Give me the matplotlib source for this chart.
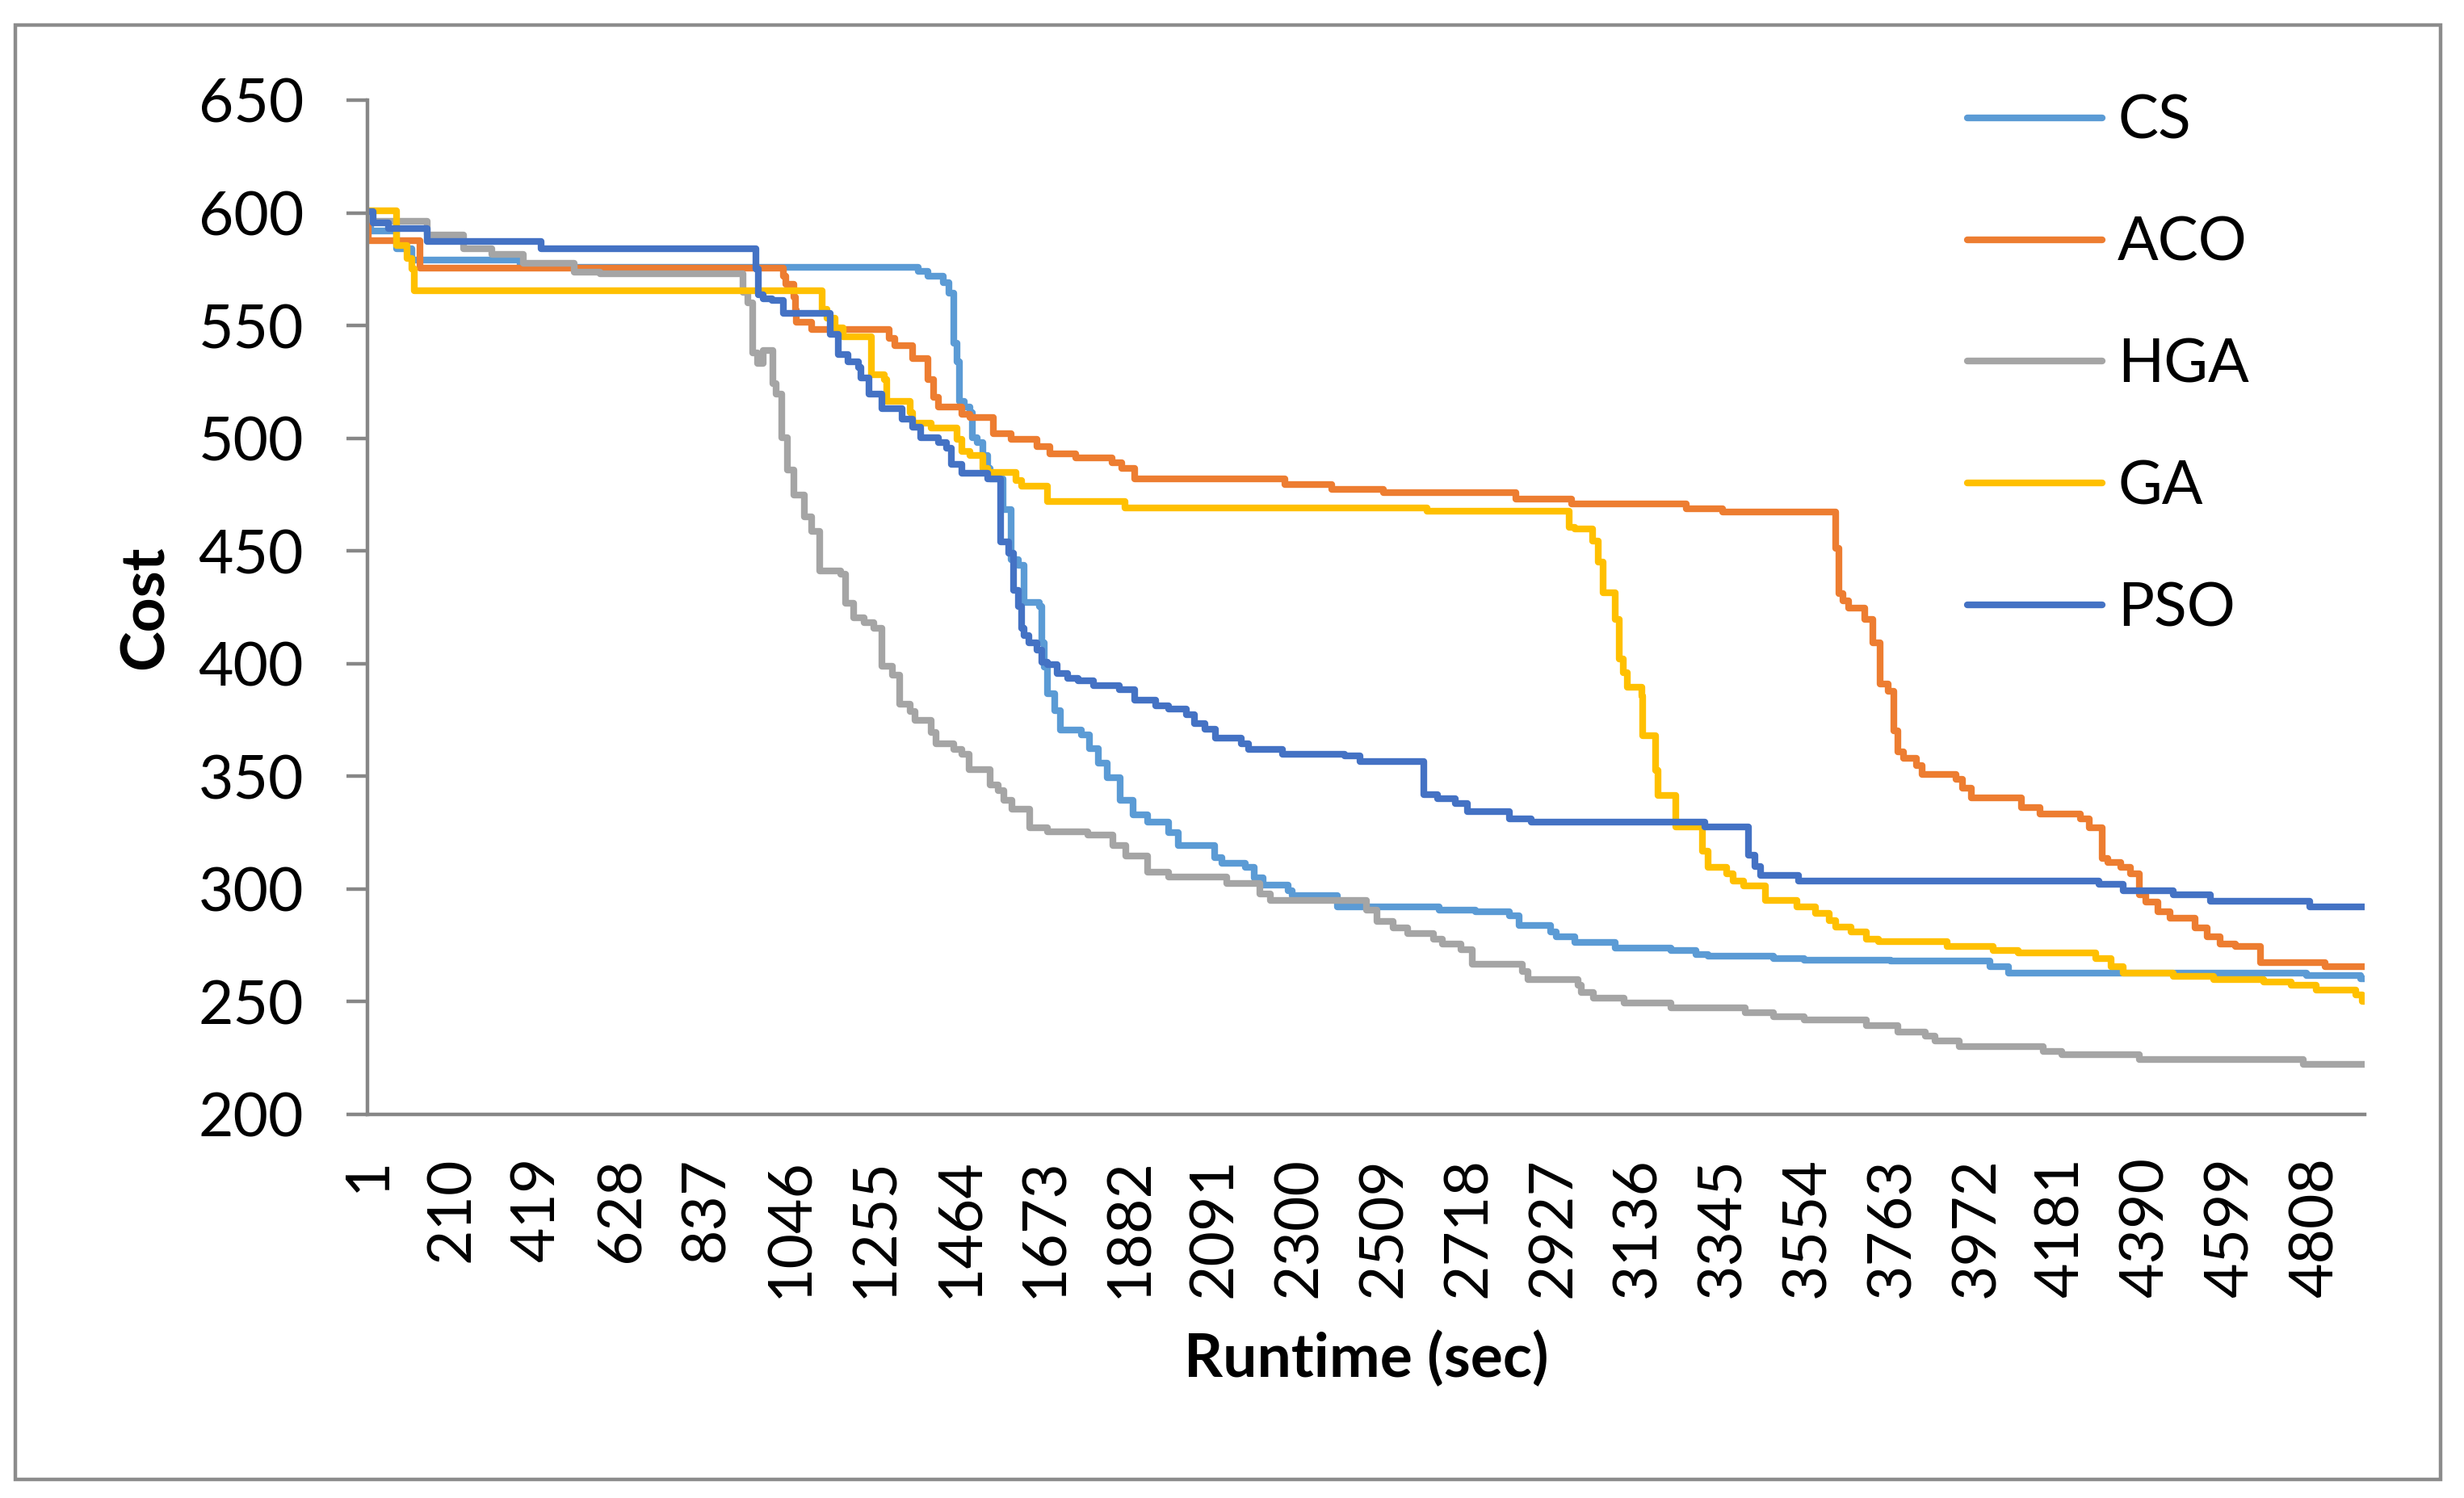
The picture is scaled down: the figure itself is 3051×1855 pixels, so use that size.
import matplotlib
matplotlib.use("Agg")
import matplotlib.pyplot as plt
from matplotlib.patches import Rectangle
import numpy as np

plt.rcParams['font.family'] = ['Lato', 'DejaVu Sans']

# ---- data (step change points: iteration index, cost) ----
n_points = 4930
x_tick_labels = [str(v) for v in [1, 210, 419, 628, 837, 1046, 1255, 1464, 1673, 1882, 2091,
                                  2300, 2509, 2718, 2927, 3136, 3345, 3554, 3763, 3972,
                                  4181, 4390, 4599, 4808]]
y_ticks = [200, 250, 300, 350, 400, 450, 500, 550, 600, 650]

cs_idx = [1, 8, 72, 110, 378, 1360, 1385, 1423, 1436, 1449, 1455, 1462, 1474, 1487, 1494, 1506,
          1519, 1532, 1538, 1570, 1589, 1608, 1621, 1659, 1666, 1672, 1680, 1698, 1711, 1763,
          1782, 1805, 1826, 1858, 1890, 1926, 1979, 2002, 2091, 2109, 2167, 2189, 2211, 2274,
          2283, 2394, 2645, 2736, 2820, 2843, 2920, 2935, 2981, 3080, 3218, 3279, 3310, 3471,
          3547, 3761, 4006, 4052, 4787, 4920]
cs_val = [598, 592, 584, 579, 576, 574, 572, 569, 564.3, 542, 534, 516.3, 514, 511.5, 500.4, 498,
          492.4, 486.8, 482, 468.4, 446, 443.6, 427, 425.3, 409.3, 398.4, 386.7, 379.3, 370.7, 368.3,
          362.3, 355.9, 349.5, 339.3, 333, 329.7, 324.9, 319.4, 313.8, 311.4, 309.8, 305, 301.8, 299.4,
          297, 292, 290.5, 290, 288.1, 284, 280.9, 278.8, 276.4, 273.7, 272.7, 271, 270.2, 269.2,
          268.5, 267.9, 265.5, 262.8, 261.8, 260.3]

aco_idx = [1, 3, 130, 1028, 1034, 1054, 1058, 1060, 1098, 1289, 1302, 1347, 1385, 1398, 1411,
           1468, 1487, 1545, 1589, 1653, 1685, 1749, 1838, 1863, 1895, 2265, 2380, 2508, 2835,
           2973, 3256, 3345, 3625, 3633, 3642, 3657, 3697, 3716, 3735, 3754, 3769, 3777, 3792,
           3823, 3838, 3922, 3937, 3960, 4083, 4129, 4228, 4251, 4282, 4297, 4328, 4351, 4374,
           4389, 4420, 4450, 4511, 4542, 4573, 4611, 4672, 4833]
aco_val = [596, 587.5, 575.5, 572, 568.3, 562.7, 557, 551.5, 548.3, 544.3, 541.1, 535.5, 526, 518, 514,
           510.8, 509.2, 502, 499.6, 496.4, 493.2, 491.3, 489.2, 486.8, 482, 479.6, 477.2, 475.8, 473,
           470.9, 468.8, 467.2, 451, 431, 427.8, 424.7, 419.5, 409.3, 390.8, 387.7, 370.2, 361, 357.9,
           354.8, 350.7, 348.7, 344.6, 340.5, 336.3, 333.3, 331.2, 327.1, 313.7, 311.7, 309.6, 306.6, 297.3,
           294.2, 290.1, 287, 282.9, 278.8, 275.7, 274.7, 267.5, 265.5]

hga_idx = [1, 12, 149, 238, 308, 385, 512, 576, 927, 940, 951, 964, 977, 1002, 1009, 1024, 1037,
           1054, 1079, 1098, 1117, 1168, 1181, 1200, 1226, 1251, 1270, 1296, 1315, 1341, 1353,
           1392, 1404, 1449, 1468, 1485, 1537, 1557, 1572, 1591, 1636, 1680, 1778, 1841, 1872,
           1926, 1979, 2122, 2203, 2229, 2466, 2493, 2533, 2569, 2631, 2653, 2700, 2727, 2851,
           2866, 2988, 2996, 3027, 3103, 3218, 3402, 3471, 3547, 3700, 3777, 3846, 3869, 3930,
           4136, 4182, 4374, 4779]
hga_val = [598, 596.2, 590.2, 584.1, 581.4, 577.7, 573.8, 572.8, 564.6, 560, 537.9, 533.1, 539, 524.3,
           519.5, 500.4, 486, 474.8, 465.2, 458.8, 441.2, 439.6, 426.9, 420.5, 418.1, 415.7, 398.9,
           394.9, 382.1, 378.9, 374.9, 369.3, 364.3, 362, 359.7, 353, 346, 343.5, 339.3, 335.3, 327.3,
           325.3, 324.1, 319.4, 314.6, 307.4, 305.4, 302.6, 297.8, 294.9, 290.6, 285.8, 282.6, 280.2,
           277.8, 275.5, 273, 266.5, 263.4, 259.7, 257.3, 254.2, 251.5, 249.5, 247.4, 245.3, 243.5,
           241.8, 239.4, 236.7, 234.7, 232.6, 230.1, 227.9, 226.4, 224.4, 222.3]

ga_idx = [1, 72, 98, 110, 117, 1124, 1136, 1156, 1175, 1245, 1277, 1283, 1341, 1347, 1392, 1455,
          1468, 1487, 1519, 1532, 1602, 1615, 1679, 1870, 2616, 2966, 2981, 3024, 3039, 3050,
          3080, 3091, 3100, 3111, 3146, 3149, 3180, 3187, 3229, 3295, 3310, 3356, 3371, 3397,
          3451, 3529, 3575, 3608, 3624, 3662, 3700, 3731, 3899, 4014, 4075, 4267, 4305, 4335,
          4458, 4557, 4680, 4749, 4810, 4909, 4925]
ga_val = [601, 585.4, 579.8, 575, 565.4, 557.1, 553.1, 549.1, 545.1, 528.3, 526, 516.3, 511.5, 506.8,
          504.4, 499.6, 494, 492.4, 486.8, 484.7, 481.2, 478.8, 471.9, 469.2, 467.6, 460.6, 459.6,
          454.5, 445.2, 431.3, 419.5, 402.1, 395.9, 389.4, 385.7, 368.2, 352.8, 341.5, 327.7, 316.8,
          309.6, 306.6, 303.5, 301.4, 294.8, 292.2, 289.1, 286, 283.3, 280.9, 277.8, 276.8, 274.7,
          272.7, 271.7, 269, 265.5, 262.8, 261.4, 259.9, 258.7, 257.3, 255.2, 253.2, 250.1]

pso_idx = [1, 15, 53, 149, 429, 959, 966, 977, 1000, 1028, 1143, 1162, 1187, 1213, 1219, 1238,
           1270, 1321, 1347, 1366, 1411, 1430, 1443, 1468, 1532, 1564, 1583, 1596, 1608, 1615,
           1621, 1634, 1653, 1666, 1679, 1704, 1730, 1755, 1793, 1857, 1895, 1946, 1978, 2023,
           2042, 2068, 2093, 2157, 2176, 2259, 2412, 2450, 2609, 2641, 2685, 2716, 2820, 2874,
           3302, 3409, 3425, 3440, 3532, 4274, 4335, 4458, 4550, 4795]
pso_val = [600.5, 595.7, 593, 587.3, 584.1, 575, 563.5, 562, 561, 555.5, 546, 537, 534, 531.5, 526.7,
           519.5, 513, 508.4, 505, 500.4, 498, 495.6, 488.4, 484.4, 482, 454, 449, 432.4, 425.3, 415.7,
           412.5, 409.3, 406, 400.5, 399.7, 395.7, 393.3, 392.5, 390.4, 388.5, 383.7, 381.3, 379.7,
           377.3, 373.3, 370.9, 366.9, 364.5, 362.1, 359.7, 358.9, 356.5, 341.7, 340, 338, 334.3, 331.2,
           329.8, 327.7, 315, 310, 306, 303.5, 302, 299.4, 297.3, 294.6, 292.2]

series = [
    ("CS", cs_idx, cs_val, "#5B9BD5"),
    ("ACO", aco_idx, aco_val, "#ED7D31"),
    ("HGA", hga_idx, hga_val, "#A5A5A5"),
    ("GA", ga_idx, ga_val, "#FFC000"),
    ("PSO", pso_idx, pso_val, "#4472C4"),
]

W, H = 3051, 1855
DPI = 200
fig = plt.figure(figsize=(W / DPI, H / DPI), dpi=DPI)
fig.patch.set_facecolor("white")

# outer chart border
fig.add_artist(Rectangle((19 / W, 1 - 1832 / H), 3003 / W, 1801 / H, transform=fig.transFigure,
                         fill=False, edgecolor="#8c8c8c", linewidth=1.6))

ax = fig.add_axes([455 / W, 1 - 1380 / H, 2473 / W, 1256 / H])

fs = 27
gray = "#878787"
for name, xi, yv, col in series:
    xs = list(xi) + [n_points]
    ys = list(yv) + [yv[-1]]
    ax.plot(xs, ys, drawstyle="steps-post", color=col, lw=3.0, label=name,
            solid_joinstyle="round", solid_capstyle="round")

ax.set_xlim(1, n_points)
ax.set_ylim(200, 650)
ax.set_yticks(y_ticks)
ax.set_yticklabels([str(v) for v in y_ticks], fontsize=fs)
xt = [int(s) for s in x_tick_labels]
ax.set_xticks(xt)
ax.set_xticklabels(x_tick_labels, rotation=90, fontsize=fs, va="top", ha="center")

for s in ["top", "right"]:
    ax.spines[s].set_visible(False)
for s in ["left", "bottom"]:
    ax.spines[s].set_color(gray)
    ax.spines[s].set_linewidth(1.6)
ax.tick_params(axis="y", length=9.4, width=1.6, color=gray, pad=19)
ax.tick_params(axis="x", length=0, pad=19)

fig.text(180 / W, 1 - 752 / H, "Cost", rotation=90, ha="center", va="center",
         fontsize=fs, fontweight="bold")
fig.text(1692 / W, 1 - 1683 / H, "Runtime (sec)", ha="center", va="center",
         fontsize=fs, fontweight="bold")

leg = ax.legend(loc="upper left", bbox_to_anchor=(2436 / W, 1 - 116 / H),
                bbox_transform=fig.transFigure, frameon=False, fontsize=fs,
                handlelength=2.23, handletextpad=0.25, labelspacing=1.09, borderpad=0,
                borderaxespad=0)
for line in leg.get_lines():
    line.set_solid_capstyle("round")

fig.savefig("out.png", dpi=DPI, facecolor="white")
